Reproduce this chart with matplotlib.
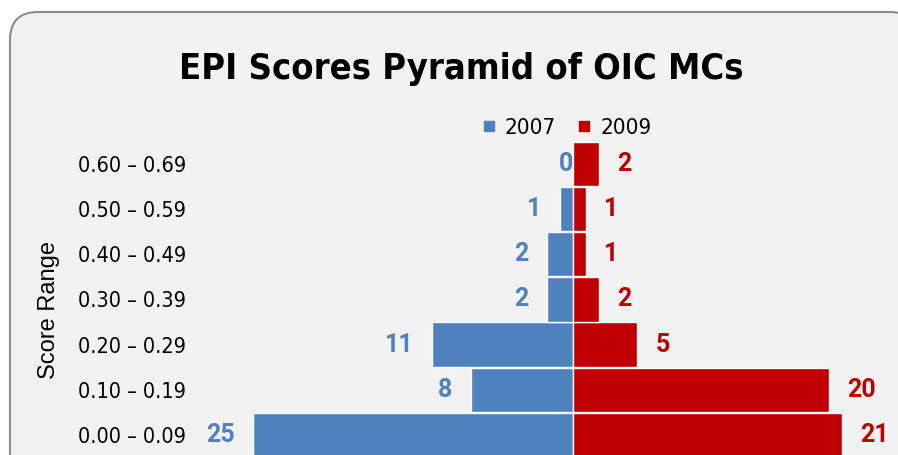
import matplotlib
matplotlib.use("Agg")
from matplotlib import pyplot as plt
from matplotlib.patches import FancyBboxPatch
from matplotlib.lines import Line2D
from matplotlib.transforms import IdentityTransform

### chart data
score_ranges = ["0.00 – 0.09", "0.10 – 0.19", "0.20 – 0.29", "0.30 – 0.39",
                "0.40 – 0.49", "0.50 – 0.59", "0.60 – 0.69"]
counts_2007 = [25, 8, 11, 2, 2, 1, 0]
counts_2009 = [21, 20, 5, 2, 1, 1, 2]

blue = "#4f81bd"
red = "#c00000"
narrow = ["DejaVu Sans", "Liberation Sans"]
bold_num = ["Roboto", "DejaVu Sans"]

fig = plt.figure(figsize=(8.98, 4.55), dpi=100, facecolor="white")

### rounded grey panel (pixel coords, cropped at right/bottom like the source)
panel = FancyBboxPatch((10, -40), 908, 455 - 12 + 40,
                       boxstyle="round,pad=0,rounding_size=28",
                       transform=IdentityTransform(), zorder=-10,
                       facecolor="#f2f2f2", edgecolor="#8c8c8c", linewidth=1.5)
fig.patches.append(panel)

W, H = 898.0, 455.0
ax_left, ax_top = 200.0, 140.0
ax = fig.add_axes([ax_left / W, 0, (W - ax_left) / W, (H - ax_top) / H])
ax.set_facecolor("none")

px_unit = 12.8
x0 = 573.0
ax.set_xlim((ax_left - x0) / px_unit, (W - x0) / px_unit)
row_gap = 45.2
row0 = 435.0
ax.set_ylim((row0 - H) / row_gap, (row0 - ax_top) / row_gap)

ypos = list(range(len(score_ranges)))
ax.barh(ypos, [-v for v in counts_2007], height=0.98, color=blue,
        edgecolor="white", linewidth=1.0, label="2007")
ax.barh(ypos, counts_2009, height=0.98, color=red,
        edgecolor="white", linewidth=1.0, label="2009")

### value labels
for y, v in zip(ypos, counts_2007):
    xl = -(v + 1.45) if v else 0
    ax.text(xl, y, str(v), ha="right", va="center", color=blue,
            fontsize=18, fontweight="bold", family=bold_num)
for y, v in zip(ypos, counts_2009):
    ax.text(v + 1.45, y, str(v), ha="left", va="center", color=red,
            fontsize=18, fontweight="bold", family=bold_num)

ax.set_yticks(ypos)
ax.set_yticklabels(score_ranges, family=narrow, fontsize=15.5, fontstretch="condensed")
ax.tick_params(axis="y", length=0, pad=10)
ax.set_xticks([])
for s in ax.spines.values():
    s.set_visible(False)

ax.set_ylabel("Score Range", family=["Liberation Sans", "DejaVu Sans"], fontsize=17)
ax.yaxis.set_label_coords((60 - ax_left) / (W - ax_left), (H - 310) / (H - ax_top))

fig.text(461 / W, (H - 69) / H, "EPI Scores Pyramid of OIC MCs",
         ha="center", va="center", fontsize=26, fontweight="bold", family=narrow,
         fontstretch="condensed")

handles = [Line2D([], [], linestyle="none", marker="s", markersize=7.9, color=blue),
           Line2D([], [], linestyle="none", marker="s", markersize=7.9, color=red)]
fig.legend(handles, ["2007", "2009"], loc="center",
           bbox_to_anchor=(567 / W, (H - 128) / H), ncol=2, frameon=False,
           prop={"family": narrow, "size": 16, "stretch": "condensed"},
           handlelength=0.55, handletextpad=0.45, columnspacing=1.0,
           borderpad=0, borderaxespad=0)

fig.savefig("out.png", dpi=100, facecolor="white")
